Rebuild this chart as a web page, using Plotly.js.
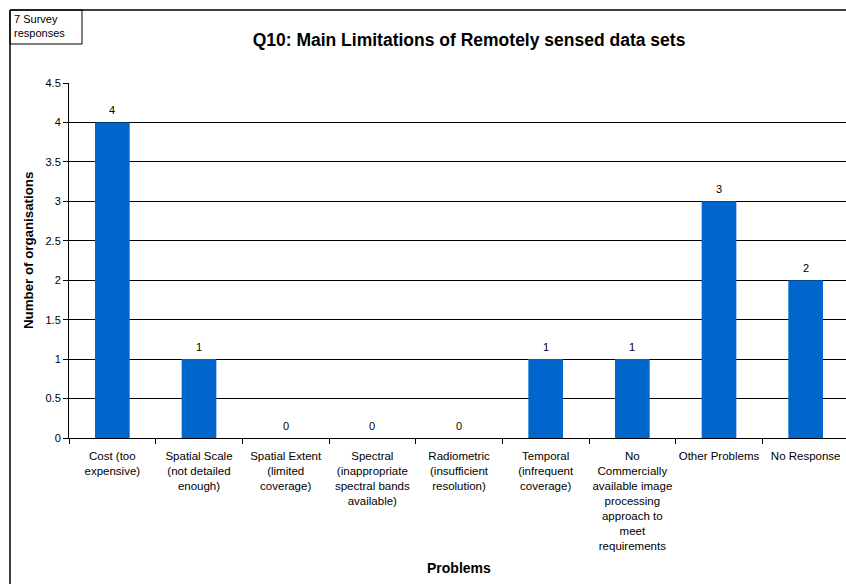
<!DOCTYPE html>
<html>
<head>
<meta charset="utf-8">
<script src="https://cdn.plot.ly/plotly-3.0.1.min.js"></script>
<style>
  html, body { margin: 0; padding: 0; overflow: hidden; background: #fff; }
  #chart { width: 852px; height: 584px; }
</style>
</head>
<body>
<div id="chart"></div>
<script>
// Survey question 10: main limitations of remotely sensed data sets
const categories = [
  "Cost (too<br>expensive)",
  "Spatial Scale<br>(not detailed<br>enough)",
  "Spatial Extent<br>(limited<br>coverage)",
  "Spectral<br>(inappropriate<br>spectral bands<br>available)",
  "Radiometric<br>(insufficient<br>resolution)",
  "Temporal<br>(infrequent<br>coverage)",
  "No<br>Commercially<br>available image<br>processing<br>approach to<br>meet<br>requirements",
  "Other Problems",
  "No Response"
];
const organisations = [4, 1, 0, 0, 0, 1, 1, 3, 2];
const yTicks = [0, 0.5, 1, 1.5, 2, 2.5, 3, 3.5, 4, 4.5];
const yTickLabels = ["0", "0.5", "1", "1.5", "2", "2.5", "3", "3.5", "4", "4.5"];

const FONT = "Arial, 'Liberation Sans', sans-serif";

const trace = {
  type: "bar",
  x: categories,
  y: organisations,
  marker: { color: "#0066CC", line: { width: 0 } },
  hoverinfo: "skip"
};

// value labels sitting just above each bar
const valueLabels = categories.map((c, i) => ({
  xref: "x", yref: "y", x: c, y: organisations[i],
  text: String(organisations[i]),
  showarrow: false, yanchor: "bottom", yshift: 4,
  font: { family: FONT, size: 11, color: "#000" }
}));

// plot area geometry and helpers for placing the outer frame
const L = 69, T = 83, W = 780, H = 355;
const px = v => (v - L) / W;
const py = v => (T + H - v) / H;

const layout = {
  width: 852,
  height: 584,
  margin: { l: L, r: 852 - L - W, t: T, b: 584 - T - H },
  paper_bgcolor: "#fff",
  plot_bgcolor: "#fff",
  font: { family: FONT, size: 11, color: "#000" },
  bargap: 0.6,
  showlegend: false,
  title: {
    text: "<b>Q10: Main Limitations of Remotely sensed data sets</b>",
    font: { family: FONT, size: 17.5, color: "#000" },
    xref: "paper", x: px(469), xanchor: "center",
    yref: "container", y: 1 - 40 / 584, yanchor: "middle"
  },
  xaxis: {
    type: "category",
    tickson: "boundaries",
    tickangle: 0,
    ticks: "outside", ticklen: 5, tickcolor: "#000", tickwidth: 1,
    ticklabelstandoff: 7,
    showline: true, linecolor: "#000", linewidth: 1,
    showgrid: false,
    tickfont: { family: FONT, size: 11.5, color: "#000" },
    automargin: false
  },
  yaxis: {
    range: [0, 4.5],
    tickvals: yTicks,
    ticktext: yTickLabels,
    ticks: "outside", ticklen: 5, tickcolor: "#000", tickwidth: 1,
    showline: true, linecolor: "#000", linewidth: 1,
    showgrid: true, gridcolor: "#000", gridwidth: 1,
    zeroline: true, zerolinecolor: "#000", zerolinewidth: 1,
    tickfont: { family: FONT, size: 11, color: "#000" },
    automargin: false
  },
  shapes: [
    // chart frame: left and top edges
    { type: "line", xref: "paper", yref: "paper", x0: px(10), x1: px(10), y0: py(10), y1: py(590),
      line: { color: "#000", width: 1.5 } },
    { type: "line", xref: "paper", yref: "paper", x0: px(10), x1: px(860), y0: py(10), y1: py(10),
      line: { color: "#000", width: 1.5 } },
    // response-count box
    { type: "rect", xref: "paper", yref: "paper", x0: px(10), x1: px(82), y0: py(10), y1: py(44),
      line: { color: "#000", width: 1 }, fillcolor: "rgba(0,0,0,0)" }
  ],
  annotations: valueLabels.concat([
    { xref: "paper", yref: "paper", x: px(12), y: py(11), xanchor: "left", yanchor: "top",
      align: "left", showarrow: false,
      text: "7 Survey<br>responses",
      font: { family: FONT, size: 11, color: "#000" } },
    // y-axis title
    { xref: "paper", yref: "paper", x: px(28), y: py(251), xanchor: "center", yanchor: "middle",
      textangle: -90, showarrow: false,
      text: "<b>Number of organisations</b>",
      font: { family: FONT, size: 13.3, color: "#000" } },
    // x-axis title
    { xref: "paper", yref: "paper", x: px(458.5), y: py(568), xanchor: "center", yanchor: "middle",
      showarrow: false,
      text: "<b>Problems</b>",
      font: { family: FONT, size: 14, color: "#000" } }
  ])
};

Plotly.newPlot("chart", [trace], layout, { displayModeBar: false, staticPlot: true });
</script>
</body>
</html>
